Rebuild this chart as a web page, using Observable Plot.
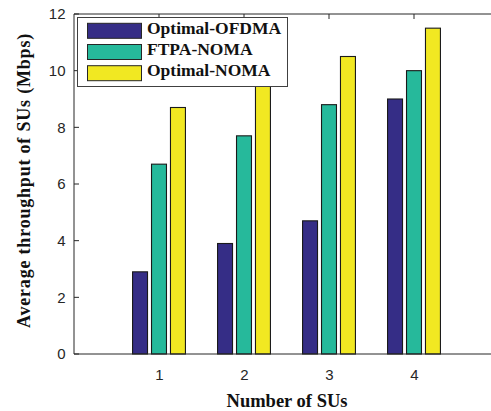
<!DOCTYPE html>
<html><head><meta charset="utf-8">
<script src="https://cdn.jsdelivr.net/npm/d3@7"></script>
<script src="https://cdn.jsdelivr.net/npm/@observablehq/plot@0.6"></script>
<style>body{margin:0;background:#fff}</style>
</head><body><div id="chart"></div>
<script>
const groups = [1, 2, 3, 4];
const seriesNames = ["Optimal-OFDMA", "FTPA-NOMA", "Optimal-NOMA"];
const optimalOFDMA = [2.9, 3.9, 4.7, 9.0];
const ftpaNOMA = [6.7, 7.7, 8.8, 10.0];
const optimalNOMA = [8.7, 9.6, 10.5, 11.5];
const seriesColors = ["#352d86", "#26b99b", "#f1e822"];
const yTicks = [0, 2, 4, 6, 8, 10, 12];
const xTicks = [1, 2, 3, 4];
const xDomain = [0, 5];
const yDomain = [0, 12];
const xLabel = "Number of SUs";
const yLabel = "Average throughput of SUs (Mbps)";

const seriesValues = [optimalOFDMA, ftpaNOMA, optimalNOMA];
const data = seriesNames.flatMap((s, i) =>
  groups.map((g, j) => ({group: g, series: s, idx: i, value: seriesValues[i][j]})));

const step = 0.223, half = 0.088;
const axisColor = "#262626";

function ticksUnder(index, {x, y}) {
  const g = d3.create("svg:g").attr("stroke", axisColor).attr("fill", "none");
  let p = "";
  for (const t of yTicks) {
    p += `M${x(xDomain[0])},${y(t)}h5M${x(xDomain[1])},${y(t)}h-5`;
  }
  for (const t of xTicks) {
    p += `M${x(t)},${y(yDomain[1])}v5M${x(t)},${y(yDomain[0])}v-5`;
  }
  g.append("path").attr("d", p);
  return g.node();
}
function frameLines(index, {x, y}) {
  const x0 = x(xDomain[0]), x1 = x(xDomain[1]), y0 = y(yDomain[0]), y1 = y(yDomain[1]);
  return d3.create("svg:path").attr("stroke", axisColor).attr("fill", "none")
    .attr("d", `M${x0},${y1}V${y0}H${x1}V${y1}Z`).node();
}
function legend() {
  const g = d3.create("svg:g").attr("text-anchor", "start");
  g.append("rect").attr("x", 77.5).attr("y", 17.5).attr("width", 210).attr("height", 69)
    .attr("fill", "white").attr("stroke", "#404040");
  seriesNames.forEach((s, i) => {
    const cy = 30.8 + i * 21.2;
    g.append("rect").attr("x", 87.5).attr("y", cy - 7.5).attr("width", 54).attr("height", 15)
      .attr("fill", seriesColors[i]).attr("stroke", "#262626");
    g.append("text").attr("x", 147).attr("y", cy + 3)
      .attr("font-family", "Liberation Serif").attr("font-weight", "bold")
      .attr("font-size", 17.5).attr("fill", "#111").text(s);
  });
  return g.node();
}

const chart = Plot.plot({
  width: 491,
  height: 411,
  marginLeft: 74,
  marginTop: 14,
  marginBottom: 57,
  marginRight: 0,
  style: {background: "white", overflow: "hidden"},
  x: {domain: xDomain, range: [74, 499]},
  y: {domain: yDomain, range: [354, 14]},
  color: {domain: seriesNames, range: seriesColors},
  marks: [
    ticksUnder,
    Plot.rectY(data, {
      x1: d => d.group + (d.idx - 1) * step - half,
      x2: d => d.group + (d.idx - 1) * step + half,
      y1: 0, y2: "value",
      fill: "series", stroke: "#1a1a1a", strokeWidth: 1.1
    }),
    frameLines,
    Plot.axisY(yTicks, {tickSize: 0, tickPadding: 9, fontSize: 15, fontFamily: "Liberation Sans", fill: axisColor, label: null}),
    Plot.axisX(xTicks, {tickSize: 0, tickPadding: 15, fontSize: 15, fontFamily: "Liberation Sans", fill: axisColor, label: null}),
    Plot.text([xLabel], {frameAnchor: "bottom", textAnchor: "middle", dx: 4, dy: 52, lineAnchor: "bottom",
      fontSize: 18.5, fontWeight: "bold", fontFamily: "Liberation Serif", fill: "#111"}),
    Plot.text([yLabel], {frameAnchor: "left", textAnchor: "middle", rotate: -90, dx: -45, dy: -4, lineAnchor: "bottom",
      fontSize: 18, fontWeight: "bold", fontFamily: "Liberation Serif", fill: "#111"}),
    legend
  ]
});
d3.select(chart).selectAll("text").filter(function() { return this.textContent === yLabel; })
  .attr("letter-spacing", 0.8);
document.getElementById("chart").append(chart);
</script>
</body></html>
